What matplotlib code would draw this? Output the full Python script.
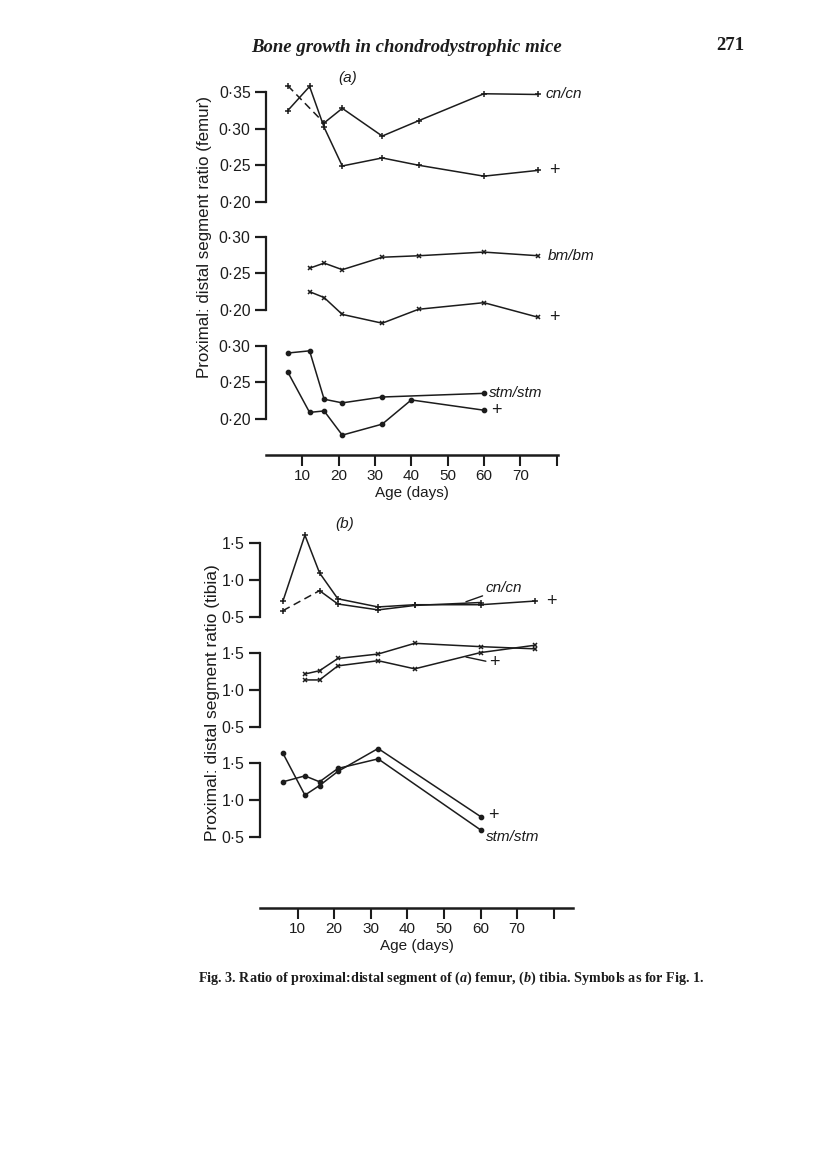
import numpy as np
import matplotlib
matplotlib.use('Agg')
import matplotlib.pyplot as plt

plt.rcParams['font.family'] = ['Liberation Sans', 'DejaVu Sans']
plt.rcParams['mathtext.fontset'] = 'custom'
plt.rcParams['mathtext.rm'] = 'Liberation Serif:bold'
plt.rcParams['mathtext.it'] = 'Liberation Serif:italic:bold'

# ---- data ----
# (a) femur
fem_cn_age = [6, 16, 21, 32, 42, 60, 75]
fem_cn = [0.359, 0.308, 0.328, 0.290, 0.311, 0.348, 0.347]
fem_cnwt_age = [6, 12, 16, 21, 32, 42, 60, 75]
fem_cnwt = [0.325, 0.358, 0.302, 0.249, 0.260, 0.250, 0.235, 0.243]

fem_bm_age = [12, 16, 21, 32, 42, 60, 75]
fem_bm = [0.257, 0.264, 0.255, 0.272, 0.274, 0.279, 0.274]
fem_bmwt = [0.225, 0.217, 0.194, 0.182, 0.201, 0.210, 0.190]

fem_stm_age = [6, 12, 16, 21, 32, 60]
fem_stm = [0.290, 0.293, 0.227, 0.222, 0.230, 0.235]
fem_stmwt_age = [6, 12, 16, 21, 32, 40, 60]
fem_stmwt = [0.264, 0.209, 0.211, 0.178, 0.193, 0.226, 0.212]

# (b) tibia
tib_cn_age = [6, 16, 21, 32, 42, 60]
tib_cn = [0.59, 0.86, 0.68, 0.60, 0.66, 0.70]
tib_cnwt_age = [6, 12, 16, 21, 32, 42, 60, 75]
tib_cnwt = [0.72, 1.61, 1.10, 0.75, 0.64, 0.67, 0.67, 0.72]

tib_bm_age = [12, 16, 21, 32, 42, 60, 75]
tib_bm = [1.22, 1.265, 1.43, 1.49, 1.635, 1.59, 1.56]
tib_bmwt = [1.14, 1.14, 1.33, 1.40, 1.29, 1.51, 1.61]

tib_stm_age = [6, 12, 16, 21, 32, 60]
tib_stm = [1.25, 1.33, 1.25, 1.43, 1.56, 0.60]
tib_stmwt = [1.635, 1.07, 1.20, 1.39, 1.70, 0.78]

x_ticks = [10, 20, 30, 40, 50, 60, 70, 80]
x_ticklabels = ['10', '20', '30', '40', '50', '60', '70', '']
fem_ticks = [0.20, 0.25, 0.30, 0.35]
fem_ticklabels = ['0·20', '0·25', '0·30', '0·35']
tib_ticks = [0.5, 1.0, 1.5]
tib_ticklabels = ['0·5', '1·0', '1·5']

W, H = 816, 1161
K = '#1c1c1c'
FS = 11
fig = plt.figure(figsize=(W / 100, H / 100), dpi=100)
fig.patch.set_facecolor('white')


def rect(x0, x1, ytop, ybot):
    return [x0 / W, 1 - ybot / H, (x1 - x0) / W, (ybot - ytop) / H]


def sub_ax(x0, x1, xlim, ytop, ybot, vtop, vbot, ticks, labels):
    ax = fig.add_axes(rect(x0, x1, ytop, ybot))
    ax.set_xlim(*xlim)
    ax.set_ylim(vbot, vtop)
    ax.patch.set_visible(False)
    for s in ['top', 'right', 'bottom']:
        ax.spines[s].set_visible(False)
    ax.spines['left'].set_color(K)
    ax.spines['left'].set_linewidth(1.6)
    ax.set_xticks([])
    ax.set_yticks(ticks)
    ax.set_yticklabels(labels)
    ax.tick_params(axis='y', direction='out', length=8, width=1.6,
                   color=K, labelcolor=K, labelsize=11.3, pad=3)
    return ax


def x_ax(x0, x1, xlim, yline):
    ax = fig.add_axes([x0 / W, 1 - yline / H, (x1 - x0) / W, 0.0001])
    ax.set_xlim(*xlim)
    ax.patch.set_visible(False)
    for s in ['top', 'right', 'left']:
        ax.spines[s].set_visible(False)
    ax.spines['bottom'].set_color(K)
    ax.spines['bottom'].set_linewidth(1.8)
    ax.set_yticks([])
    ax.set_xticks(x_ticks)
    ax.set_xticklabels(x_ticklabels)
    ax.tick_params(axis='x', direction='out', length=8, width=1.5,
                   color=K, labelcolor=K, labelsize=FS, pad=2)
    ax.set_xlabel('Age (days)', fontsize=FS, color=K, labelpad=2)
    return ax


def series(ax, x, y, marker, ms, dashed_first=False):
    kw = dict(color=K, lw=1.1, clip_on=False)
    if dashed_first:
        ax.plot(x[:2], y[:2], ls=(0, (5, 3)), **kw)
        ax.plot(x[1:], y[1:], ls='-', **kw)
    else:
        ax.plot(x, y, ls='-', **kw)
    ax.plot(x, y, ls='none', marker=marker, ms=ms, mew=1.1, mec=K, mfc=K,
            clip_on=False)


def lab(ax, x, y, s, style='italic', size=FS):
    ax.text(x, y, s, fontsize=size, style=style, color=K, ha='left',
            va='center', clip_on=False)


# ---- (a) femur ----
xa = (266, 558)
xlim_a = (0, 80.4)
a1 = sub_ax(*xa, xlim_a, 92.3, 201.7, 0.35, 0.20, fem_ticks, fem_ticklabels)
series(a1, fem_cn_age, fem_cn, '+', 4.5, dashed_first=True)
series(a1, fem_cnwt_age, fem_cnwt, '+', 4.5)
lab(a1, 77, 0.347, 'cn/cn')
lab(a1, 78, 0.243, '+', style='normal', size=13)

a2 = sub_ax(*xa, xlim_a, 236.7, 310, 0.30, 0.20, fem_ticks[:3], fem_ticklabels[:3])
series(a2, fem_bm_age, fem_bm, 'x', 3.2)
series(a2, fem_bm_age, fem_bmwt, 'x', 3.2)
lab(a2, 77.5, 0.274, 'bm/bm')
lab(a2, 78, 0.190, '+', style='normal', size=13)

a3 = sub_ax(*xa, xlim_a, 345.7, 419, 0.30, 0.20, fem_ticks[:3], fem_ticklabels[:3])
series(a3, fem_stm_age, fem_stm, 'o', 3)
series(a3, fem_stmwt_age, fem_stmwt, 'o', 3)
lab(a3, 61.5, 0.236, 'stm/stm')
lab(a3, 62, 0.212, '+', style='normal', size=13)

x_ax(*xa, xlim_a, 455)

# ---- (b) tibia ----
xb = (260, 573)
xlim_b = (-0.27, 85.25)
b1 = sub_ax(*xb, xlim_b, 543.3, 617.3, 1.5, 0.5, tib_ticks, tib_ticklabels)
series(b1, tib_cn_age, tib_cn, '+', 4.5, dashed_first=True)
series(b1, tib_cnwt_age, tib_cnwt, '+', 4.5)
b1.annotate('cn/cn', xy=(56, 0.71), xytext=(61.3, 0.89), fontsize=FS,
            style='italic', color=K, ha='left', va='center',
            arrowprops=dict(arrowstyle='-', color=K, lw=1.0,
                            shrinkA=0, shrinkB=0))
lab(b1, 78, 0.72, '+', style='normal', size=13)

b2 = sub_ax(*xb, xlim_b, 653.3, 727.3, 1.5, 0.5, tib_ticks, tib_ticklabels)
series(b2, tib_bm_age, tib_bm, 'x', 3.2)
series(b2, tib_bm_age, tib_bmwt, 'x', 3.2)
b2.annotate('bm/bm', xy=(55.2, 1.61), xytext=(61.5, 1.79), fontsize=FS,
            style='italic', color=K, ha='left', va='center',
            arrowprops=dict(arrowstyle='-', color=K, lw=1.0,
                            shrinkA=0, shrinkB=0))
b2.annotate('+', xy=(56, 1.45), xytext=(62.2, 1.37), fontsize=13,
            color=K, ha='left', va='center',
            arrowprops=dict(arrowstyle='-', color=K, lw=1.0,
                            shrinkA=0, shrinkB=0))

b3 = sub_ax(*xb, xlim_b, 763.3, 837.3, 1.5, 0.5, tib_ticks, tib_ticklabels)
series(b3, tib_stm_age, tib_stm, 'o', 3)
series(b3, tib_stm_age, tib_stmwt, 'o', 3)
lab(b3, 62, 0.79, '+', style='normal', size=13)
lab(b3, 61.5, 0.50, 'stm/stm')

x_ax(*xb, xlim_b, 908)

# ---- page text ----
fig.text(348 / W, 1 - 78 / H, '(a)', fontsize=FS, style='italic',
         color=K, ha='center', va='center')
fig.text(345 / W, 1 - 524 / H, '(b)', fontsize=FS, style='italic',
         color=K, ha='center', va='center')
fig.text(205 / W, 1 - 237 / H, 'Proximal: distal segment ratio (femur)',
         rotation=90, fontsize=12.2, color=K, ha='center', va='center')
fig.text(212 / W, 1 - 703 / H, 'Proximal: distal segment ratio (tibia)',
         rotation=90, fontsize=12.5, color=K, ha='center', va='center')

fig.text(407 / W, 1 - 47 / H, 'Bone growth in chondrodystrophic mice',
         family='Liberation Serif', style='italic', weight='bold',
         fontsize=13.5, color=K, ha='center', va='center')
fig.text(730 / W, 1 - 45 / H, '271', family='Liberation Serif',
         weight='bold', fontsize=13.5, color=K, ha='center', va='center')
fig.text(198 / W, 1 - 978 / H,
         r'Fig. 3. Ratio of proximal:distal segment of ($a$) femur, ($b$) '
         r'tibia. Symbols as for Fig. 1.',
         family='Liberation Serif', weight='bold', fontsize=10.2, color=K,
         ha='left', va='center')

fig.savefig('out.png', dpi=100, facecolor='white')
